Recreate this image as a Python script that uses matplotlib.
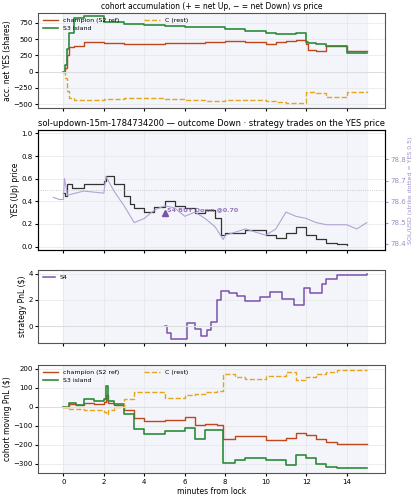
import matplotlib
matplotlib.use("Agg")
import matplotlib.pyplot as plt
import numpy as np

# ---- data ----
t_acc = [0, 0.1, 0.2, 0.3, 0.5, 1, 2, 3, 4, 5, 6, 7, 8, 9, 10, 10.5, 11, 11.5, 12, 12.1, 12.5, 13, 14, 15]
champ_acc = [0, 50, 250, 380, 400, 450, 440, 430, 430, 440, 445, 460, 470, 460, 430, 460, 470, 490, 420, 330, 320, 390, 310, 310]
s3_acc = [0, 100, 350, 600, 830, 850, 760, 730, 720, 700, 690, 680, 660, 620, 600, 580, 580, 600, 450, 440, 420, 390, 290, 290]
c_acc = [0, -100, -300, -400, -430, -440, -420, -410, -410, -420, -430, -450, -440, -440, -450, -470, -480, -490, -320, -310, -330, -390, -310, -300]

t_yes = [0, 0.1, 0.2, 0.4, 1, 2, 2.1, 2.5, 3, 3.3, 3.5, 4, 4.5, 5, 5.5, 6, 6.5, 7, 7.5, 7.8, 8, 9, 10, 10.5, 11, 11.5, 12, 12.5, 13, 13.5, 14]
yes = [0.47, 0.45, 0.55, 0.52, 0.55, 0.58, 0.62, 0.55, 0.45, 0.38, 0.34, 0.31, 0.35, 0.40, 0.36, 0.34, 0.30, 0.32, 0.25, 0.10, 0.12, 0.15, 0.10, 0.08, 0.12, 0.17, 0.10, 0.07, 0.03, 0.02, 0.01]
t_sol = [-0.5, -0.2, 0, 0.05, 0.2, 1, 2, 2.1, 2.5, 3, 3.5, 4, 4.5, 5, 5.5, 6, 6.5, 7, 7.5, 7.9, 8, 9, 10, 10.5, 11, 11.5, 12, 12.5, 13, 14, 14.5, 15]
sol = [78.62, 78.61, 78.61, 78.71, 78.63, 78.65, 78.64, 78.72, 78.65, 78.58, 78.50, 78.52, 78.56, 78.58, 78.57, 78.53, 78.55, 78.52, 78.48, 78.42, 78.44, 78.47, 78.44, 78.47, 78.55, 78.53, 78.52, 78.50, 78.49, 78.49, 78.47, 78.50]

t_s4 = [5, 5.1, 5.3, 5.8, 6.1, 6.5, 6.8, 7.1, 7.3, 7.6, 7.8, 8.2, 8.6, 9, 9.7, 10.2, 10.8, 11.4, 11.9, 12.2, 12.8, 13, 13.5, 15]
s4 = [0, -0.5, -1, -1, 0.2, -0.2, -0.8, -0.3, 0.3, 2, 2.7, 2.5, 2.3, 1.9, 2.2, 2.6, 2.1, 1.6, 2.9, 2.5, 3.2, 3.6, 3.9, 4]

t_pnl = [0, 0.3, 0.6, 1, 1.5, 2, 2.1, 2.2, 2.5, 3, 3.5, 4, 5, 6, 6.5, 7, 7.6, 7.9, 8.5, 9, 10, 11, 11.5, 12, 12.5, 13, 13.5, 15]
champ_pnl = [0, 15, 10, 20, 15, 25, 60, 20, 10, -20, -60, -75, -70, -55, -95, -90, -95, -170, -155, -155, -175, -165, -140, -150, -170, -185, -195, -195]
s3_pnl = [0, 20, 10, 40, 30, 40, 110, 30, 15, -40, -120, -145, -130, -110, -170, -125, -125, -295, -280, -270, -280, -310, -255, -270, -300, -320, -325, -325]
c_pnl = [0, -10, -10, -20, -20, -30, -40, -20, 0, 40, 80, 75, 45, 60, 65, 75, 85, 170, 155, 145, 160, 185, 140, 155, 175, 185, 195, 195]

red, green, gold, purple = "#c0461b", "#2e8b3a", "#e3a51b", "#7b52ab"

fig = plt.figure(figsize=(4.19, 5.0), dpi=100)
L, W = 0.091, 0.828
ax1 = fig.add_axes([L, 0.784, W, 0.19])
ax2 = fig.add_axes([L, 0.50, W, 0.24])
ax3 = fig.add_axes([L, 0.314, W, 0.146])
ax4 = fig.add_axes([L, 0.054, W, 0.216])
for ax in (ax1, ax2, ax3, ax4):
    ax.set_xlim(-1.25, 15.9)
    ax.axvspan(0, 15, color="#eef1f8", alpha=0.7, zorder=0)
    ax.grid(True, color="#e6e6e6", lw=0.5)
    ax.tick_params(labelsize=5, length=2.5, pad=1.5)
    ax.set_xticks(range(0, 15, 2))
    for s in ax.spines.values():
        s.set_color("#555555")
fs = 5.5
lfs = 4.5

ax1.step(t_acc, champ_acc, where="post", color=red, lw=1, label="champion (S2 ref)")
ax1.step(t_acc, s3_acc, where="post", color=green, lw=1.2, label="S3 island")
ax1.step(t_acc, c_acc, where="post", color=gold, lw=1, ls="--", label="C (rest)")
ax1.axhline(0, color="#dddddd", lw=0.8)
ax1.set_ylim(-560, 900)
ax1.set_yticks([-500, -250, 0, 250, 500, 750])
ax1.set_ylabel("acc. net YES (shares)", fontsize=fs, labelpad=1)
ax1.set_title("cohort accumulation (+ = net Up, − = net Down) vs price", fontsize=fs, pad=3)
ax1.legend(fontsize=lfs, ncol=2, loc="upper left", frameon=False, borderaxespad=0.3, handlelength=2.5, columnspacing=4)
ax1.set_xticklabels([])

ax2.step(t_yes, yes, where="post", color="#333333", lw=0.9)
ax2.axhline(0.5, color="#bbbbbb", lw=0.6, ls=":")
ax2.plot([5], [0.30], marker="^", color=purple, ms=5)
ax2.text(5.1, 0.31, "S4 BUY Down @0.70", color=purple, fontsize=4.5, fontweight="bold", alpha=0.8)
ax2.set_ylim(-0.03, 1.03)
ax2.set_yticks([0, 0.2, 0.4, 0.6, 0.8, 1.0])
ax2.set_ylabel("YES (Up) price", fontsize=fs, labelpad=1)
ax2.set_title("sol-updown-15m-1784734200 — outcome Down · strategy trades on the YES price", fontsize=6, pad=3)
ax2.set_xticklabels([])
ax2b = ax2.twinx()
ax2b.plot(t_sol, sol, color="#b3a3d3", lw=0.8)
ax2b.set_ylim(78.37, 78.94)
ax2b.set_yticks([78.4, 78.5, 78.6, 78.7, 78.8])
ax2b.tick_params(labelsize=5, colors="#a08cc8", length=2.5, pad=1.5)
ax2b.set_ylabel("SOL/USD (strike dotted = YES 0.5)", fontsize=4.5, color="#a08cc8", labelpad=1)

ax3.step(t_s4, s4, where="post", color=purple, lw=1.1, label="S4")
ax3.axhline(0, color="#dddddd", lw=0.8)
ax3.set_ylim(-1.3, 4.3)
ax3.set_yticks([0, 2, 4])
ax3.set_ylabel("strategy PnL ($)", fontsize=fs, labelpad=1)
ax3.legend(fontsize=lfs, loc="upper left", frameon=False, borderaxespad=0.3)
ax3.set_xticklabels([])

ax4.step(t_pnl, champ_pnl, where="post", color=red, lw=1, label="champion (S2 ref)")
ax4.step(t_pnl, s3_pnl, where="post", color=green, lw=1.2, label="S3 island")
ax4.step(t_pnl, c_pnl, where="post", color=gold, lw=1, ls="--", label="C (rest)")
ax4.axhline(0, color="#dddddd", lw=0.8)
ax4.set_ylim(-350, 220)
ax4.set_yticks([-300, -200, -100, 0, 100, 200])
ax4.set_ylabel("cohort moving PnL ($)", fontsize=fs, labelpad=1)
ax4.set_xlabel("minutes from lock", fontsize=fs, labelpad=2)
ax4.legend(fontsize=lfs, ncol=2, loc="upper left", frameon=False, borderaxespad=0.3, handlelength=2.5, columnspacing=4)

fig.savefig("out.png", dpi=100)
